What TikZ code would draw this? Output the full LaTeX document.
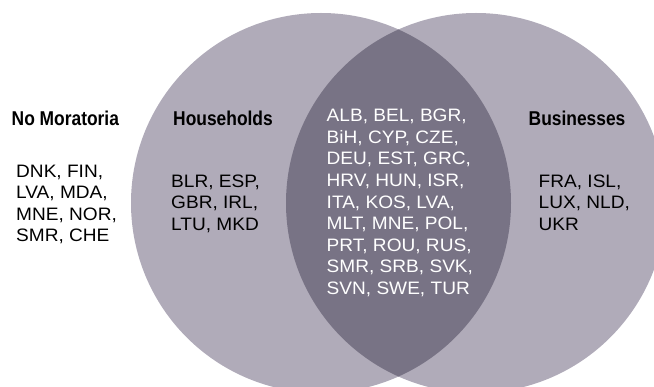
\documentclass[tikz,border=0pt]{standalone}
\usepackage{fontspec}
\setmainfont{Liberation Sans}
\newfontfamily\headfont[FakeStretch=0.87]{Liberation Sans}
\newfontfamily\bodyfont[FakeStretch=1.06]{Liberation Sans}
\definecolor{vennlight}{RGB}{176,171,185}
\definecolor{venndark}{RGB}{120,115,133}
\begin{document}
\begin{tikzpicture}[x=1pt,y=-1pt,
  headlbl/.style={anchor=base west,inner sep=0pt,font={\headfont\bfseries\fontsize{20}{24}\selectfont}},
  bodylbl/.style={anchor=north west,inner sep=0pt,align=left,font={\bodyfont\fontsize{18}{21.6}\selectfont}}]
\useasboundingbox (0,0) rectangle (654,387);
\clip (0,0) rectangle (654,387);
\coordinate (hc) at (321,203);
\coordinate (bc) at (476,203);
\fill[vennlight] (hc) circle[radius=190pt];
\fill[vennlight] (bc) circle[radius=190pt];
\begin{scope}
  \clip (hc) circle[radius=190pt];
  \fill[venndark] (bc) circle[radius=190pt];
\end{scope}
\node[headlbl] (nomor) at (11.5,126) {No Moratoria};
\node[headlbl] (hh) at (173,126) {Households};
\node[headlbl] (bus) at (528.5,126) {Businesses};
\node[bodylbl] (nomorlist) at (16,164.5) {DNK, FIN,\\LVA, MDA,\\MNE, NOR,\\SMR, CHE};
\node[bodylbl] (hhlist) at (171,174.5) {BLR, ESP,\\GBR, IRL,\\LTU, MKD};
\node[bodylbl,text=white] (both) at (326.5,109) {ALB, BEL, BGR,\\BiH, CYP, CZE,\\DEU, EST, GRC,\\HRV, HUN, ISR,\\ITA, KOS, LVA,\\MLT, MNE, POL,\\PRT, ROU, RUS,\\SMR, SRB, SVK,\\SVN, SWE, TUR};
\node[bodylbl] (buslist) at (538.5,174.5) {FRA, ISL,\\LUX, NLD,\\UKR};
\end{tikzpicture}
\end{document}
